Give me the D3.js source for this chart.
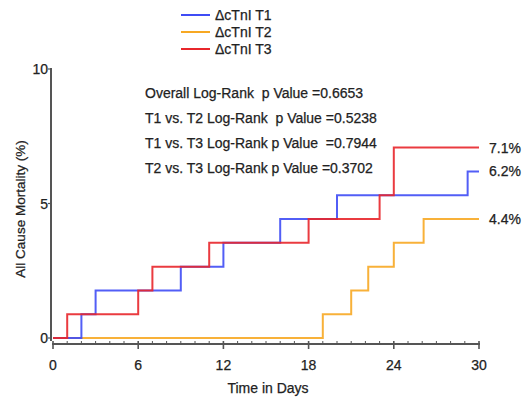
<!DOCTYPE html>
<html><head><meta charset="utf-8">
<script src="https://cdn.jsdelivr.net/npm/d3@7"></script>
<style>body{margin:0;background:#fff}svg{display:block}text{font-family:"Liberation Sans",Arial,sans-serif;fill:#222;stroke:#222;stroke-width:0.25}</style>
</head><body><div id="chart"></div>
<script>
const seriesNames = ["\u0394cTnI T1", "\u0394cTnI T2", "\u0394cTnI T3"];
const seriesColors = ["#3f4cf5", "#f7a823", "#e8262b"];
const t1Times = [0, 2, 3, 9, 12, 16, 20, 29.2, 30];
const t1Values = [0, 0.88, 1.77, 2.65, 3.54, 4.42, 5.31, 6.19, 6.19];
const t2Times = [0, 19, 21, 22.2, 24, 26.1, 30];
const t2Values = [0, 0.88, 1.77, 2.65, 3.54, 4.42, 4.42];
const t3Times = [0, 1, 6, 7, 11, 18, 23, 24, 30];
const t3Values = [0, 0.88, 1.77, 2.65, 3.54, 4.42, 5.31, 7.08, 7.08];
const endLabels = ["6.2%", "4.4%", "7.1%"];
const xTicks = [0, 6, 12, 18, 24, 30];
const yTicks = [0, 5, 10];
const statLines = [
  "Overall Log-Rank  p Value =0.6653",
  "T1 vs. T2 Log-Rank  p Value =0.5238",
  "T1 vs. T3 Log-Rank p Value  =0.7944",
  "T2 vs. T3 Log-Rank p Value =0.3702"
];

const W = 524, H = 402;
const svg = d3.select("#chart").append("svg").attr("width", W).attr("height", H);
const x = d3.scaleLinear().domain([0, 30]).range([53, 479]);
const y = d3.scaleLinear().domain([0, 10]).range([338, 69]);
const axisColor = "#555";

// axes
const xAxisY = 344;
svg.append("line").attr("x1", x(0) - 1).attr("x2", x(30) + 1).attr("y1", xAxisY).attr("y2", xAxisY)
  .attr("stroke", axisColor).attr("stroke-width", 2);
d3.range(0, 31).forEach(d => {
  const major = d % 6 === 0;
  svg.append("line").attr("x1", x(d)).attr("x2", x(d))
    .attr("y1", xAxisY - 3).attr("y2", major ? xAxisY + 5 : xAxisY)
    .attr("stroke", axisColor).attr("stroke-width", major ? 1.6 : 1);
});
xTicks.forEach(d => {
  svg.append("text").attr("x", x(d)).attr("y", 370).attr("text-anchor", "middle")
    .attr("font-size", 14).text(d);
});
const yAxisX = 51;
svg.append("line").attr("x1", yAxisX).attr("x2", yAxisX).attr("y1", y(10) - 1).attr("y2", y(0) + 3)
  .attr("stroke", axisColor).attr("stroke-width", 2);
yTicks.forEach(d => {
  svg.append("line").attr("x1", yAxisX - 3).attr("x2", yAxisX).attr("y1", y(d)).attr("y2", y(d))
    .attr("stroke", axisColor).attr("stroke-width", 1.2);
  svg.append("text").attr("x", yAxisX - 3).attr("y", y(d) + 5).attr("text-anchor", "end")
    .attr("font-size", 14).text(d);
});
svg.append("text").attr("x", 268).attr("y", 393).attr("text-anchor", "middle")
  .attr("font-size", 14).text("Time in Days");
svg.append("text").attr("transform", "translate(25,209) rotate(-90)").attr("text-anchor", "middle")
  .attr("font-size", 13.5).text("All Cause Mortality (%)");

// curves
const series = [
  {times: t1Times, values: t1Values},
  {times: t2Times, values: t2Values},
  {times: t3Times, values: t3Values}
];
const line = d3.line().x(d => x(d[0])).y(d => y(d[1])).curve(d3.curveStepAfter);
[1, 0, 2].forEach(i => {
  const s = series[i];
  const pts = s.times.map((t, k) => [t, s.values[k]]);
  svg.append("path").attr("d", line(pts)).attr("fill", "none")
    .attr("stroke", seriesColors[i]).attr("stroke-width", 2).attr("stroke-opacity", 0.9);
  svg.append("text").attr("x", x(30) + 10).attr("y", y(s.values[s.values.length - 1]) + 5)
    .attr("font-size", 14).text(endLabels[i]);
});

// legend
seriesNames.forEach((n, i) => {
  const ly = 15 + i * 17;
  svg.append("line").attr("x1", 181).attr("x2", 210).attr("y1", ly).attr("y2", ly)
    .attr("stroke", seriesColors[i]).attr("stroke-width", 2);
  svg.append("text").attr("x", 215).attr("y", ly + 5).attr("font-size", 14).text(n);
});

// stats
statLines.forEach((s, i) => {
  svg.append("text").attr("x", 145).attr("y", 98 + i * 25).attr("font-size", 14)
    .attr("xml:space", "preserve").style("white-space", "pre").text(s);
});
</script></body></html>
